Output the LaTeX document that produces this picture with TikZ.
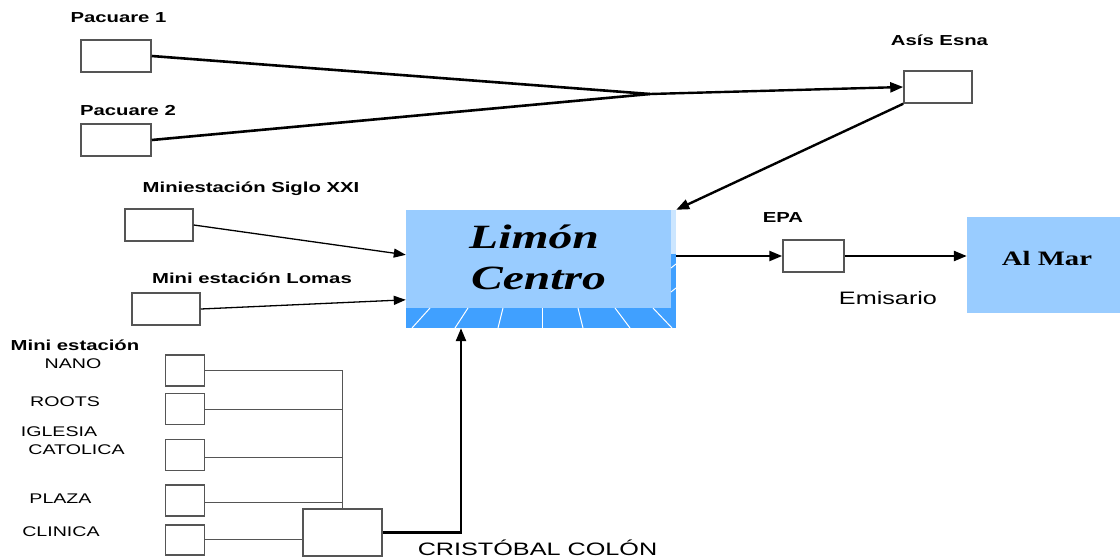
\documentclass[tikz,border=0pt]{standalone}
\usepackage{fontspec}
\usetikzlibrary{arrows.meta,calc}
\newfontfamily\arialf{Liberation Sans}
\newfontfamily\timesf{Liberation Serif}
\definecolor{skyfill}{HTML}{99CCFF}
\definecolor{bandfill}{HTML}{40A0FF}
\definecolor{paleedge}{HTML}{CCE6FF}
\definecolor{boxline}{HTML}{555555}
\tikzset{
  stbox/.style={draw=boxline, line width=1.5pt, fill=white, inner sep=0pt},
  lbl/.style={anchor=base, inner sep=0pt, xscale=1.4, font=\arialf\bfseries\fontsize{14.5}{16}\selectfont},
  caplbl/.style={anchor=base, inner sep=0pt, xscale=1.4, font=\arialf\fontsize{14}{16}\selectfont},
  heavy/.style={line width=2.6pt},
  flow/.style={line width=2.4pt, -{Triangle[length=13pt,width=10pt]}},
  thinflow/.style={line width=1.3pt, -{Triangle[length=12pt,width=9pt]}},
  bus/.style={line width=1pt, draw=boxline},
}
\begin{document}
\begin{tikzpicture}[x=1pt,y=-1pt]
\useasboundingbox (0,0) rectangle (1120,560);

% ---- main collector block ----
\node[fill=skyfill, inner sep=0pt, minimum width=270pt, minimum height=118pt] (lc) at (541,269) {};
\fill[paleedge] (671,210) rectangle (676,254);
\fill[bandfill] (671,254) rectangle (676,308);
\fill[bandfill] (406,308) rectangle (676,328);
\begin{scope}[white, line width=1pt]
  \foreach \a/\b in {430/412,468/455,503/498,542/542,578/583,615/630,653/672}
    \draw (\a,308) -- (\b,328);
  \draw (671,268) -- (676,264);
  \draw (671,292) -- (676,288);
\end{scope}
\node[anchor=base, inner sep=0pt, xscale=1.4, font=\timesf\bfseries\itshape\fontsize{34}{40}\selectfont] (lct1) at (534,248) {Limón};
\node[anchor=base, inner sep=0pt, xscale=1.4, font=\timesf\bfseries\itshape\fontsize{34}{40}\selectfont] (lct2) at (538.5,289) {Centro};

% ---- outlet ----
\node[fill=skyfill, inner sep=0pt, minimum width=153pt, minimum height=96pt] (almar) at (1043.5,265) {};
\node[anchor=base, inner sep=0pt, xscale=1.4, font=\timesf\bfseries\fontsize{20.5}{24}\selectfont] (almart) at (1047,265) {Al Mar};

% ---- stations ----
\node[stbox, minimum width=70pt, minimum height=32pt] (p1) at (116,56) {};
\node[stbox, minimum width=70pt, minimum height=32pt] (p2) at (116,140) {};
\node[stbox, minimum width=68pt, minimum height=32pt] (asis) at (938,87) {};
\node[stbox, minimum width=68pt, minimum height=32pt] (siglo) at (159,225) {};
\node[stbox, minimum width=68pt, minimum height=32pt] (lomas) at (166,309) {};
\node[stbox, minimum width=61pt, minimum height=32pt] (epa) at (813.5,256) {};
\node[stbox, minimum width=39pt, minimum height=31pt] (nano) at (185,370.5) {};
\node[stbox, minimum width=39pt, minimum height=31pt] (roots) at (185,409) {};
\node[stbox, minimum width=39pt, minimum height=31pt] (iglesia) at (185,455) {};
\node[stbox, minimum width=39pt, minimum height=31pt] (plaza) at (185,500.5) {};
\node[stbox, minimum width=39pt, minimum height=30pt] (clinica) at (185,540) {};
\node[stbox, minimum width=79pt, minimum height=47pt] (cc) at (342.5,532.5) {};

% ---- labels ----
\node[lbl] (tp1) at (118.5,22) {Pacuare 1};
\node[lbl] (tp2) at (128,115) {Pacuare 2};
\node[lbl] (tasis) at (939.5,45) {Asís Esna};
\node[lbl] (tsiglo) at (251,192) {Miniestación Siglo XXI};
\node[lbl] (tlomas) at (252,283) {Mini estación Lomas};
\node[lbl] (tepa) at (783,222) {EPA};
\node[lbl] (tmini) at (75,350) {Mini estación};
\node[caplbl] (tnano) at (73,368) {NANO};
\node[caplbl] (troots) at (65,406) {ROOTS};
\node[caplbl] (tigl) at (59,436) {IGLESIA};
\node[caplbl] (tcat) at (76.5,454) {CATOLICA};
\node[caplbl] (tplaza) at (60.5,503) {PLAZA};
\node[caplbl] (tclin) at (61,536) {CLINICA};
\node[anchor=base, inner sep=0pt, xscale=1.4, font=\arialf\fontsize{18}{20}\selectfont] (temis) at (888,304) {Emisario};
\node[anchor=base, inner sep=0pt, xscale=1.4, font=\arialf\fontsize{18}{20}\selectfont] (tcc) at (537.5,555) {CRISTÓBAL COLÓN};

% ---- connectors ----
\coordinate (join) at (650,94);
\draw[heavy] (p1.east) -- (join);
\draw[heavy] (p2.east) -- (join);
\draw[flow] (join) -- (asis.west);
\draw[flow] (asis.south west) -- (lc.north east);
\draw[thinflow] (siglo.east) -- ([yshift=-45pt]lc.north west);
\draw[thinflow] (lomas.east) -- ([yshift=-90pt]lc.north west);
\draw[flow] (lc.east |- epa.west) -- (epa.west);
\draw[flow] (epa.east) -- (epa.east -| almar.west);

\draw[bus] (nano.east) -| (cc.north);
\draw[bus] (roots.east) -- (roots.east -| cc.north);
\draw[bus] ([yshift=-2pt]iglesia.east) -- ([yshift=-2pt]iglesia.east -| cc.north);
\draw[bus] ([yshift=-1.5pt]plaza.east) -- ([yshift=-1.5pt]plaza.east -| cc.north);
\draw[bus] ([yshift=1pt]clinica.east) -- ([yshift=1pt]clinica.east -| cc.west);
\draw[flow] (cc.east) -| ([xshift=-80pt]lc.south);
\end{tikzpicture}
\end{document}
